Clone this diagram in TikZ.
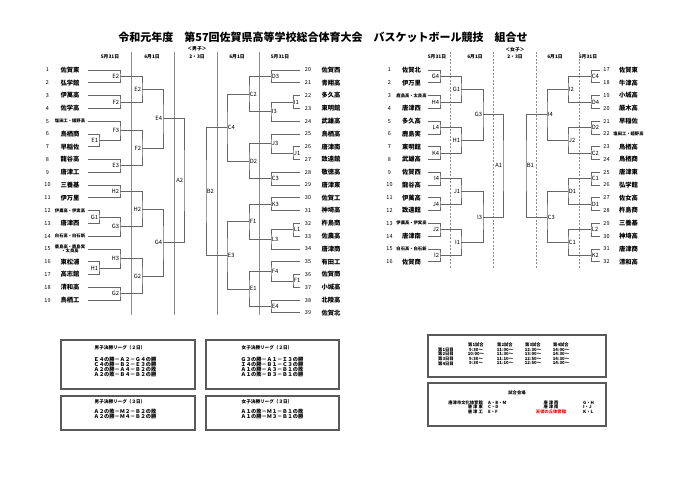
\documentclass[tikz,border=0pt]{standalone}
\usepackage{fontspec}
\setmainfont{Noto Sans CJK JP}
\usetikzlibrary{calc}

\tikzset{
  team/.style={font=\bfseries\fontsize{6.3}{7}\selectfont, inner sep=0pt},
  teamsm/.style={font=\bfseries\fontsize{4.3}{4.6}\selectfont, inner sep=0pt, align=center},
  num/.style={font=\fontsize{5.5}{6}\selectfont, inner sep=0pt},
  lbl/.style={font=\fontsize{5.8}{6}\selectfont, inner sep=0.7pt},
  hdr/.style={font=\bfseries\fontsize{4.8}{5}\selectfont, inner sep=0pt},
  brk/.style={draw=black!60, line width=0.7pt},
  daysep/.style={draw=black!45, line width=0.6pt},
  daysepg/.style={daysep, dash pattern=on 2pt off 1.5pt},
  panel/.style={draw=black!65, line width=1.2pt},
  paneltitle/.style={font=\bfseries\fontsize{4.6}{5}\selectfont, inner sep=0pt},
  paneltxt/.style={font=\bfseries\fontsize{5.2}{5}\selectfont, inner sep=0pt, align=center},
  sched/.style={font=\bfseries\fontsize{4.3}{4.5}\selectfont, inner sep=0pt},
}

% one game: name, column, first entry, second entry, label, label anchor
\newcommand{\game}[6]{%
  \coordinate (#1t) at ($(#3)!.5!(#4)$);
  \coordinate (#1) at (#1t -| #2);
  \draw[brk] (#3) -| (#1) |- (#4);
  \node[lbl, anchor=#6] (#1l) at (#1) {#5};
}

\begin{document}
\begin{tikzpicture}[x=1pt, y=-1pt]
  \fill[white] (0,0) rectangle (680,481);
  \useasboundingbox (0,0) rectangle (680,481);

  % Title
  \node[font=\bfseries\fontsize{11}{13}\selectfont, inner sep=0pt] (title) at (323,37)
    {令和元年度　第57回佐賀県高等学校総合体育大会　バスケットボール競技　組合せ};

  % Headers
  \node[hdr] (hb0) at (197,49) {＜男子＞};
  \node[hdr] (hb1) at (110,57) {5月31日};
  \node[hdr] (hb2) at (152,57) {6月1日};
  \node[hdr] (hb3) at (197,57) {2・3日};
  \node[hdr] (hb4) at (237,57) {6月1日};
  \node[hdr] (hb5) at (280,57) {5月31日};
  \node[hdr] (hg0) at (515,50) {＜女子＞};
  \node[hdr] (hg1) at (437,57) {5月31日};
  \node[hdr] (hg2) at (475,57) {6月1日};
  \node[hdr] (hg3) at (515,57) {2・3日};
  \node[hdr] (hg4) at (555,57) {6月1日};
  \node[hdr] (hg5) at (588,57) {5月31日};

  % Day lines
  \foreach \x in {131,174,217,259}
    \draw[daysep] (\x,52) -- (\x,315);
  \foreach \x in {450,493,536,579}
    \draw[daysepg] (\x,52) -- (\x,268);

  % Columns
  \coordinate (xa) at (99,0);  \coordinate (xb) at (120,0);
  \coordinate (xc) at (142,0); \coordinate (xd) at (163,0);
  \coordinate (xe) at (184,0);
  \coordinate (xA) at (293,0); \coordinate (xB) at (271,0);
  \coordinate (xC) at (249,0); \coordinate (xD) at (227,0);
  \coordinate (xE) at (206,0);
  \coordinate (gx1) at (440,0); \coordinate (gx2) at (461,0);
  \coordinate (gx3) at (483,0); \coordinate (gx4) at (503,0);
  \coordinate (gy1) at (591,0); \coordinate (gy2) at (568,0);
  \coordinate (gy3) at (547,0); \coordinate (gy4) at (526,0);

  % Boys teams
  \foreach \i/\t/\s in {1/佐賀東/team, 2/弘学館/team, 3/伊萬高/team, 4/佐学高/team,
      5/塩田工・嬉野高/teamsm, 6/鳥栖商/team, 7/早稲佐/team, 8/龍谷高/team,
      9/唐津工/team, 10/三養基/team, 11/伊万里/team, 12/伊農高・伊実高/teamsm,
      13/唐津西/team, 14/白石高・白石新/teamsm, 15/{鹿島高・鹿島実\\・太良高}/teamsm,
      16/東松浦/team, 17/高志館/team, 18/清和高/team, 19/鳥栖工/team} {
    \node[num] (bn\i) at (47.5,{70+(\i-1)*12.78}) {\i};
    \node[\s] (b\i) at (70,{70+(\i-1)*12.78}) {\t};
    \coordinate (be\i) at (88,{70+(\i-1)*12.78});
  }
  \foreach \i/\t in {20/佐賀西, 21/青翔高, 22/多久高, 23/東明館, 24/武雄高,
      25/鳥栖高, 26/唐津南, 27/致遠館, 28/敬徳高, 29/唐津東, 30/佐賀工,
      31/神埼高, 32/杵島商, 33/佐農高, 34/唐津商, 35/有田工, 36/佐賀商,
      37/小城高, 38/北陵高, 39/佐賀北} {
    \node[num] (bn\i) at (308,{70+(\i-20)*12.78}) {\i};
    \node[team] (b\i) at (331,{70+(\i-20)*12.78}) {\t};
    \coordinate (be\i) at (300,{70+(\i-20)*12.78});
  }

  % Girls teams
  \foreach \i/\t/\s in {1/佐賀北/team, 2/伊万里/team, 3/鹿島高・太良高/teamsm,
      4/唐津西/team, 5/多久高/team, 6/鹿島実/team, 7/東明館/team, 8/武雄高/team,
      9/佐賀西/team, 10/龍谷高/team, 11/伊萬高/team, 12/致遠館/team,
      13/伊農高・伊実高/teamsm, 14/唐津南/team, 15/白石高・白石新/teamsm,
      16/佐賀商/team} {
    \node[num] (gn\i) at (389.5,{70+(\i-1)*12.78}) {\i};
    \node[\s] (g\i) at (411.5,{70+(\i-1)*12.78}) {\t};
    \coordinate (ge\i) at (428,{70+(\i-1)*12.78});
  }
  \foreach \i/\t/\s in {17/佐賀東/team, 18/牛津高/team, 19/小城高/team,
      20/厳木高/team, 21/早稲佐/team, 22/塩田工・嬉野高/teamsm, 23/鳥栖高/team,
      24/鳥栖商/team, 25/唐津東/team, 26/弘学館/team, 27/佐女高/team,
      28/杵島商/team, 29/三養基/team, 30/神埼高/team, 31/唐津商/team,
      32/清和高/team} {
    \node[num] (gn\i) at (606.5,{70+(\i-17)*12.78}) {\i};
    \node[\s] (g\i) at (628.5,{70+(\i-17)*12.78}) {\t};
    \coordinate (ge\i) at (600,{70+(\i-17)*12.78});
  }

  % Boys bracket, left
  \game{bE1}{xa}{be6}{be7}{E1}{east}
  \game{bG1}{xa}{be12}{be13}{G1}{east}
  \game{bH1}{xa}{be16}{be17}{H1}{east}
  \game{bE2}{xb}{be1}{be2}{E2}{east}
  \game{bF2}{xb}{be3}{be4}{F2}{east}
  \game{bF3}{xb}{be5}{bE1}{F3}{east}
  \game{bE3}{xb}{be8}{be9}{E3}{east}
  \game{bH2}{xb}{be10}{be11}{H2}{east}
  \game{bG3}{xb}{bG1}{be14}{G3}{east}
  \game{bH3}{xb}{be15}{bH1}{H3}{east}
  \game{bG2}{xb}{be18}{be19}{G2}{east}
  \game{bE2b}{xc}{bE2}{bF2}{E2}{east}
  \game{bF2b}{xc}{bF3}{bE3}{F2}{east}
  \game{bH2b}{xc}{bH2}{bG3}{H2}{east}
  \game{bG2b}{xc}{bH3}{bG2}{G2}{east}
  \game{bE4}{xd}{bE2b}{bF2b}{E4}{east}
  \game{bG4}{xd}{bH2b}{bG2b}{G4}{east}
  \game{bA2}{xe}{bE4}{bG4}{A2}{east}

  % Boys bracket, right
  \game{bI1}{xA}{be22}{be23}{I1}{west}
  \game{bJ1}{xA}{be26}{be27}{J1}{west}
  \game{bL1}{xA}{be32}{be33}{L1}{west}
  \game{bF1}{xA}{be36}{be37}{F1}{west}
  \game{bD3}{xB}{be20}{be21}{D3}{west}
  \game{bI3}{xB}{bI1}{be24}{I3}{west}
  \game{bJ3}{xB}{be25}{bJ1}{J3}{west}
  \game{bC3}{xB}{be28}{be29}{C3}{west}
  \game{bK3}{xB}{be30}{be31}{K3}{west}
  \game{bL3}{xB}{bL1}{be34}{L3}{west}
  \game{bF4}{xB}{be35}{bF1}{F4}{west}
  \game{bE4r}{xB}{be38}{be39}{E4}{west}
  \game{bC2}{xC}{bD3}{bI3}{C2}{west}
  \game{bD2}{xC}{bJ3}{bC3}{D2}{west}
  \game{bF1b}{xC}{bK3}{bL3}{F1}{west}
  \game{bE1b}{xC}{bF4}{bE4r}{E1}{west}
  \game{bC4}{xD}{bC2}{bD2}{C4}{west}
  \game{bE3b}{xD}{bF1b}{bE1b}{E3}{west}
  \game{bB2}{xE}{bC4}{bE3b}{B2}{west}

  % Girls bracket, left
  \game{gG4}{gx1}{ge1}{ge2}{G4}{east}
  \game{gH4}{gx1}{ge3}{ge4}{H4}{east}
  \game{gL4}{gx1}{ge5}{ge6}{L4}{east}
  \game{gK4}{gx1}{ge7}{ge8}{K4}{east}
  \game{gI4}{gx1}{ge9}{ge10}{I4}{east}
  \game{gJ4}{gx1}{ge11}{ge12}{J4}{east}
  \game{gJ2}{gx1}{ge13}{ge14}{J2}{east}
  \game{gI2}{gx1}{ge15}{ge16}{I2}{east}
  \game{gG1}{gx2}{gG4}{gH4}{G1}{east}
  \game{gH1}{gx2}{gL4}{gK4}{H1}{east}
  \game{gJ1}{gx2}{gI4}{gJ4}{J1}{east}
  \game{gI1}{gx2}{gJ2}{gI2}{I1}{east}
  \game{gG3}{gx3}{gG1}{gH1}{G3}{east}
  \game{gI3}{gx3}{gJ1}{gI1}{I3}{east}
  \game{gA1}{gx4}{gG3}{gI3}{A1}{east}

  % Girls bracket, right
  \game{gC4}{gy1}{ge17}{ge18}{C4}{west}
  \game{gD4}{gy1}{ge19}{ge20}{D4}{west}
  \game{gD2}{gy1}{ge21}{ge22}{D2}{west}
  \game{gC2}{gy1}{ge23}{ge24}{C2}{west}
  \game{gC1}{gy1}{ge25}{ge26}{C1}{west}
  \game{gD1}{gy1}{ge27}{ge28}{D1}{west}
  \game{gL2}{gy1}{ge29}{ge30}{L2}{west}
  \game{gK2}{gy1}{ge31}{ge32}{K2}{west}
  \game{gI2r}{gy2}{gC4}{gD4}{I2}{west}
  \game{gJ2r}{gy2}{gD2}{gC2}{J2}{west}
  \game{gD1b}{gy2}{gC1}{gD1}{D1}{west}
  \game{gC1b}{gy2}{gL2}{gK2}{C1}{west}
  \game{gI4r}{gy3}{gI2r}{gJ2r}{I4}{west}
  \game{gC3}{gy3}{gD1b}{gC1b}{C3}{west}
  \game{gB1}{gy4}{gI4r}{gC3}{B1}{west}

  % Final leagues
  \draw[panel] (61,340) rectangle (195,389);
  \draw[panel] (206,340) rectangle (339,389);
  \draw[panel] (61,396) rectangle (195,430);
  \draw[panel] (206,396) rectangle (339,430);
  \node[paneltitle] (lb2) at (120,348) {男子決勝リーグ（２日）};
  \node[paneltxt] (lb2t) at (125,367.5)
    {Ｅ４の勝－Ａ２－Ｇ４の勝\\Ｃ４の勝－Ｂ２－Ｅ３の勝\\Ａ２の勝－Ａ４－Ｂ２の敗\\Ａ２の敗－Ｂ４－Ｂ２の勝};
  \node[paneltitle] (lg2) at (267,348) {女子決勝リーグ（２日）};
  \node[paneltxt] (lg2t) at (272,367.5)
    {Ｇ３の勝－Ａ１－Ｉ３の勝\\Ｉ４の勝－Ｂ１－Ｃ３の勝\\Ａ１の勝－Ａ３－Ｂ１の敗\\Ａ１の敗－Ｂ３－Ｂ１の勝};
  \node[paneltitle] (lb3) at (120,402) {男子決勝リーグ（３日）};
  \node[paneltxt] (lb3t) at (125,414.5)
    {Ａ２の敗－Ｍ２－Ｂ２の敗\\Ａ２の勝－Ｍ４－Ｂ２の勝};
  \node[paneltitle] (lg3) at (267,402) {女子決勝リーグ（３日）};
  \node[paneltxt] (lg3t) at (272,414.5)
    {Ａ１の敗－Ｍ１－Ｂ１の敗\\Ａ１の勝－Ｍ３－Ｂ１の勝};

  % Timetable
  \draw[panel] (428,335) rectangle (606,377);
  \foreach \k/\x in {1/476,2/505,3/533,4/561}
    \node[sched] (sh\k) at (\x,345) {第\k 試合};
  \foreach \r/\a/\b/\c/\d in {1/9:30〜/11:00〜/12:30〜/14:00〜,
      2/10:00〜/11:30〜/13:00〜/14:30〜, 3/9:30〜/11:10〜/12:50〜/14:30〜,
      4/9:30〜/11:10〜/12:50〜/14:30〜} {
    \node[sched] (sd\r) at (446,{345+4.6*\r}) {第\r 日目};
    \node[sched] (sa\r) at (476,{345+4.6*\r}) {\a};
    \node[sched] (sb\r) at (505,{345+4.6*\r}) {\b};
    \node[sched] (sc\r) at (533,{345+4.6*\r}) {\c};
    \node[sched] (se\r) at (561,{345+4.6*\r}) {\d};
  }

  % Venues
  \draw[panel] (428,383) rectangle (606,426);
  \node[sched] (vt) at (517,392.5) {試合会場};
  \node[sched, anchor=east] (v1) at (483,402.5) {唐津市文化体育館};
  \node[sched, anchor=east] (v2) at (483,407) {唐~津~東};
  \node[sched, anchor=east] (v3) at (483,411.5) {唐~津~工};
  \node[sched, anchor=west] (c1) at (488,402.5) {A・B・M};
  \node[sched, anchor=west] (c2) at (488,407) {C・D};
  \node[sched, anchor=west] (c3) at (488,411.5) {E・F};
  \node[sched] (v4) at (551,402.5) {唐~津~西};
  \node[sched] (v5) at (551,407) {唐~津~南};
  \node[sched, text=red] (v6) at (551,411.5) {天徳の丘体育館};
  \node[sched, anchor=west] (c4) at (583,402.5) {G・H};
  \node[sched, anchor=west] (c5) at (583,407) {I・J};
  \node[sched, anchor=west] (c6) at (583,411.5) {K・L};
\end{tikzpicture}
\end{document}
